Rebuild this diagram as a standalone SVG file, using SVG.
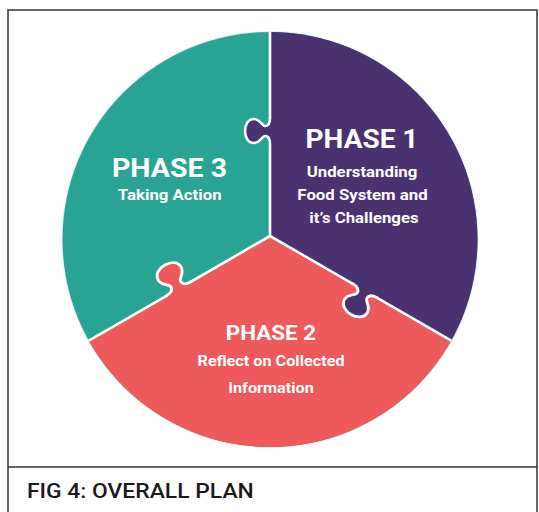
<svg xmlns="http://www.w3.org/2000/svg" xmlns:xlink="http://www.w3.org/1999/xlink" width="539" height="512" viewBox="0 0 539 512">
<style>
.t{fill:#fff;font-family:Roboto,"Liberation Sans",sans-serif;font-weight:700;text-anchor:middle}
.div{fill:none;stroke:#fff;stroke-width:2.6;stroke-linecap:round;stroke-linejoin:round}
.cap{fill:#1a1a1a;font-family:Roboto,"Liberation Sans",sans-serif;font-weight:500}
</style>
<defs>
<clipPath id="circ"><circle cx="270" cy="239.5" r="207.5"/></clipPath>
<path id="tabFill" d="M-13,0 C-7,0 -5,-2 -5,-5 C-5,-8 -12,-10 -12,-16 C-12,-22 -6,-25 0,-25 C6,-25 12,-22 12,-16 C12,-10 5,-8 5,-5 C5,-2 7,0 13,0 L13,3 L-13,3 Z"/>
<path id="tabLine" d="M-13,0 C-7,0 -5,-2 -5,-5 C-5,-8 -12,-10 -12,-16 C-12,-22 -6,-25 0,-25 C6,-25 12,-22 12,-16 C12,-10 5,-8 5,-5 C5,-2 7,0 13,0"/>
</defs>
<rect x="8" y="10" width="529" height="520" fill="none" stroke="#333" stroke-width="1.5"/>
<line x1="8" y1="467" x2="537" y2="467" stroke="#333" stroke-width="1.5"/>
<circle cx="270" cy="239.5" r="208.5" fill="#e9eeee"/>
<g clip-path="url(#circ)">
<g id="phase3">
<rect x="40" y="20" width="470" height="440" fill="#29a393"/>
<text class="t" font-size="25.5" transform="translate(169.5,176.5) scale(1.12,1)">PHASE 3</text>
<text class="t" font-size="15" transform="translate(169.7,200) scale(1.12,1)">Taking Action</text>
</g>
<g id="phase1">
<polygon points="270,236 270,0 560,0 560,403.4" fill="#4a3170"/>
<use xlink:href="#tabFill" transform="translate(270,131) rotate(-90)" fill="#4a3170"/>
<text class="t" font-size="25" transform="translate(362,148) scale(1.12,1)">PHASE 1</text>
<text class="t" font-size="15" transform="translate(362,177) scale(1.12,1)">Understanding</text>
<text class="t" font-size="15" transform="translate(362.5,200) scale(1.12,1)">Food System and</text>
<text class="t" font-size="15" transform="translate(364,223) scale(1.12,1)">it’s Challenges</text>
</g>
<g id="phase2">
<polygon points="270,236 560,403.4 560,560 -20,560 -20,403.4" fill="#ee5a5b"/>
<use xlink:href="#tabFill" transform="translate(178.5,288.83) rotate(-30) scale(1.1)" fill="#ee5a5b"/>
<use xlink:href="#tabFill" transform="translate(364.8,290.7) rotate(-150) scale(1.1)" fill="#4a3170"/>
<text class="t" font-size="20" transform="translate(271,340) scale(1.12,1)">PHASE 2</text>
<text class="t" font-size="14.5" transform="translate(271,366) scale(1.12,1)">Reflect on Collected</text>
<text class="t" font-size="14.5" transform="translate(271,393) scale(1.12,1)">Information</text>
</g>
<g id="connectors">
<path class="div" d="M270,20 L270,118 M270,144 L270,236 L190.88,281.75 M166.12,296.05 L60,357.3 M270,236 L352.42,283.55 M377.18,297.85 L480,357.3"/>
<use xlink:href="#tabLine" class="div" transform="translate(270,131) rotate(-90)"/>
<use xlink:href="#tabLine" class="div" transform="translate(178.5,288.83) rotate(-30) scale(1.1)" stroke-width="2.4"/>
<use xlink:href="#tabLine" class="div" transform="translate(364.8,290.7) rotate(-150) scale(1.1)" stroke-width="2.4"/>
</g>
</g>
<text class="cap" font-size="21" transform="translate(27,498) scale(1.09,1)">FIG 4: OVERALL PLAN</text>
</svg>
